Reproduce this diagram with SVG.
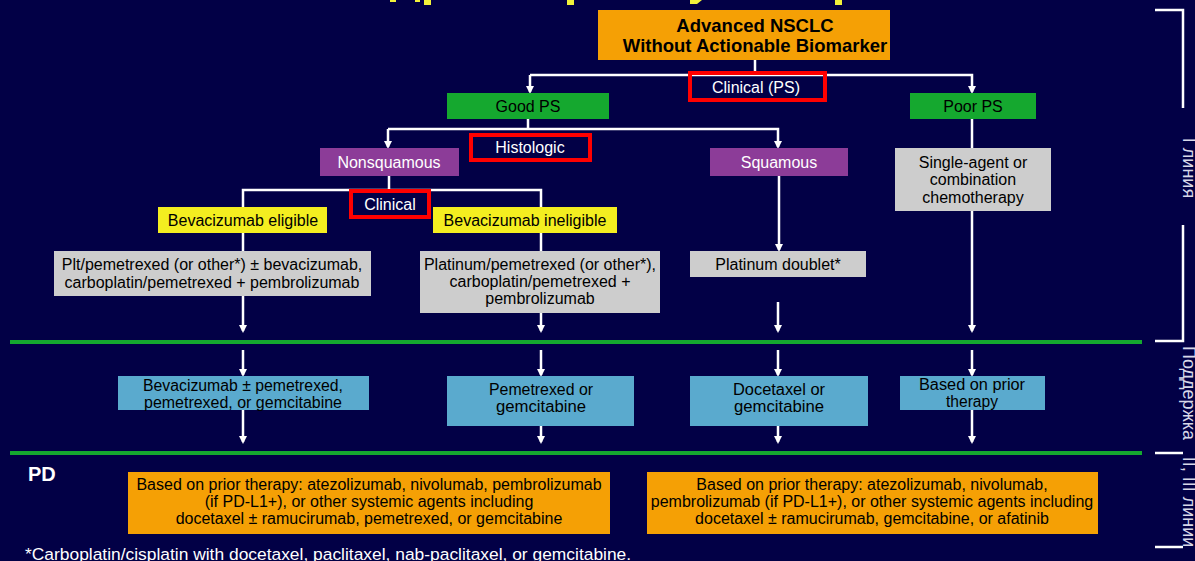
<svg xmlns="http://www.w3.org/2000/svg" width="1195" height="561" viewBox="0 0 1195 561">
  <defs>
    <style>
      text { font-family: "Liberation Sans", Arial, sans-serif; font-size: 16px; text-anchor: middle; }
      .dark { fill: #000000; }
      .light { fill: #FFFFFF; }
      .title { font-size: 18.5px; font-weight: bold; }
      .orange { fill: #F5A005; }
      .green { fill: #15A82F; }
      .purple { fill: #8C3C98; }
      .yellow { fill: #F4EE20; }
      .gray { fill: #CDCDCD; }
      .blue { fill: #5AAACE; }
      .tag { fill: none; stroke: #FF0000; stroke-width: 4; }
      .wire { fill: none; stroke: #FFFFFF; stroke-width: 2.5; }
      .arrow { fill: none; stroke: #FFFFFF; stroke-width: 2.5; marker-end: url(#head); }
      .band { stroke: #15A82F; stroke-width: 4; }
      .side { font-size: 18px; fill: #D8D8E8; text-anchor: middle; }
      .bracket { fill: none; stroke: #FFFFFF; stroke-width: 2.5; }
      .heading-edge { fill: #F2F23A; }
    </style>
    <marker id="head" markerWidth="8" markerHeight="8" refX="6" refY="4" orient="auto" markerUnits="userSpaceOnUse">
      <path d="M0,0 L8,4 L0,8 Z" fill="#FFFFFF"/>
    </marker>
  </defs>

  <rect width="1195" height="561" fill="#020046"/>

  <!-- lower tips of the slide heading, which runs off the top edge -->
  <g id="heading-tips">
    <rect class="heading-edge" x="390" y="0" width="6" height="2"/>
    <rect class="heading-edge" x="415" y="0" width="5" height="2"/>
    <rect class="heading-edge" x="424" y="0" width="7" height="5"/>
    <rect class="heading-edge" x="567" y="0" width="7" height="5"/>
    <path class="heading-edge" d="M690,0 H702 L697,4 H690 Z"/>
    <rect class="heading-edge" x="835" y="0" width="7" height="5"/>
  </g>

  <!-- section rules -->
  <line class="band" x1="10" y1="342" x2="1142" y2="342"/>
  <line class="band" x1="10" y1="453" x2="1142" y2="453"/>

  <!-- connectors -->
  <g id="connectors">
    <path class="wire" d="M755,60 V75"/>
    <path class="arrow" d="M530,75 H972 V92"/>
    <path class="arrow" d="M530,75 V92"/>
    <path class="wire" d="M528,119 V129"/>
    <path class="arrow" d="M388,129 H778 V147"/>
    <path class="arrow" d="M388,129 V147"/>
    <path class="wire" d="M389,176 V190"/>
    <path class="wire" d="M243,207 V190 H541 V207"/>
    <path class="wire" d="M243,233 V251"/>
    <path class="wire" d="M541,233 V251"/>
    <path class="arrow" d="M779,176 V250"/>
    <path class="wire" d="M972,119 V148"/>
    <path class="arrow" d="M243,296 V331"/>
    <path class="arrow" d="M541,313 V331"/>
    <path class="arrow" d="M778,302 V331"/>
    <path class="arrow" d="M972,211 V331"/>
    <path class="arrow" d="M243,350 V375"/>
    <path class="arrow" d="M541,350 V375"/>
    <path class="arrow" d="M778,350 V375"/>
    <path class="arrow" d="M972,350 V375"/>
    <path class="arrow" d="M243,410 V442"/>
    <path class="arrow" d="M541,426 V442"/>
    <path class="arrow" d="M778,426 V442"/>
    <path class="arrow" d="M972,410 V442"/>
  </g>

  <g id="root">
    <rect class="orange" x="598" y="10" width="292" height="50"/>
    <text class="dark title" x="755" y="32">Advanced NSCLC</text>
    <text class="dark title" x="755" y="52">Without Actionable Biomarker</text>
  </g>

  <g id="clinical-ps">
    <rect class="tag" x="690" y="73" width="135" height="27"/>
    <text class="light" x="756" y="93">Clinical (PS)</text>
  </g>

  <g id="good-ps">
    <rect class="green" x="447" y="93" width="162" height="26"/>
    <text class="dark" x="528" y="112">Good PS</text>
  </g>

  <g id="poor-ps">
    <rect class="green" x="910" y="93" width="126" height="26"/>
    <text class="dark" x="973" y="112">Poor PS</text>
  </g>

  <g id="histologic">
    <rect class="tag" x="471" y="135" width="119" height="25"/>
    <text class="light" x="530" y="153">Histologic</text>
  </g>

  <g id="nonsquamous">
    <rect class="purple" x="320" y="148" width="139" height="28"/>
    <text class="light" x="389" y="168">Nonsquamous</text>
  </g>

  <g id="squamous">
    <rect class="purple" x="710" y="148" width="138" height="28"/>
    <text class="light" x="779" y="168">Squamous</text>
  </g>

  <g id="poor-ps-chemo">
    <rect class="gray" x="895" y="148" width="156" height="63"/>
    <text class="dark" x="973" y="168">Single-agent or</text>
    <text class="dark" x="973" y="185">combination</text>
    <text class="dark" x="973" y="203">chemotherapy</text>
  </g>

  <g id="clinical-bev">
    <rect class="tag" x="351" y="191" width="78" height="26"/>
    <text class="light" x="390" y="210">Clinical</text>
  </g>

  <g id="bev-eligible">
    <rect class="yellow" x="158" y="207" width="169" height="26"/>
    <text class="dark" x="243" y="226">Bevacizumab eligible</text>
  </g>

  <g id="bev-ineligible">
    <rect class="yellow" x="433" y="207" width="184" height="26"/>
    <text class="dark" x="525" y="226">Bevacizumab ineligible</text>
  </g>

  <g id="eligible-regimen">
    <rect class="gray" x="54" y="251" width="317" height="45"/>
    <text class="dark" x="212" y="270">Plt/pemetrexed (or other*) ± bevacizumab,</text>
    <text class="dark" x="212" y="288">carboplatin/pemetrexed + pembrolizumab</text>
  </g>

  <g id="ineligible-regimen">
    <rect class="gray" x="420" y="251" width="240" height="62"/>
    <text class="dark" x="540" y="270">Platinum/pemetrexed (or other*),</text>
    <text class="dark" x="540" y="287">carboplatin/pemetrexed +</text>
    <text class="dark" x="540" y="304">pembrolizumab</text>
  </g>

  <g id="platinum-doublet">
    <rect class="gray" x="690" y="251" width="176" height="26"/>
    <text class="dark" x="778" y="270">Platinum doublet*</text>
  </g>

  <g id="maint-bev">
    <rect class="blue" x="118" y="376" width="251" height="34"/>
    <text class="dark" x="243" y="391" textLength="200" lengthAdjust="spacingAndGlyphs">Bevacizumab ± pemetrexed,</text>
    <text class="dark" x="243" y="408" textLength="198" lengthAdjust="spacingAndGlyphs">pemetrexed, or gemcitabine</text>
  </g>

  <g id="maint-pem">
    <rect class="blue" x="447" y="376" width="187" height="50"/>
    <text class="dark" x="541" y="395" textLength="104" lengthAdjust="spacingAndGlyphs">Pemetrexed or</text>
    <text class="dark" x="541" y="412" textLength="90" lengthAdjust="spacingAndGlyphs">gemcitabine</text>
  </g>

  <g id="maint-doc">
    <rect class="blue" x="690" y="376" width="178" height="50"/>
    <text class="dark" x="779" y="395" textLength="92" lengthAdjust="spacingAndGlyphs">Docetaxel or</text>
    <text class="dark" x="779" y="412" textLength="90" lengthAdjust="spacingAndGlyphs">gemcitabine</text>
  </g>

  <g id="maint-prior">
    <rect class="blue" x="900" y="376" width="145" height="34"/>
    <text class="dark" x="972" y="390" textLength="106" lengthAdjust="spacingAndGlyphs">Based on prior</text>
    <text class="dark" x="972" y="407" textLength="52" lengthAdjust="spacingAndGlyphs">therapy</text>
  </g>

  <text x="28" y="481" style="font-size:20px;font-weight:bold;text-anchor:start;fill:#FFFFFF">PD</text>

  <g id="pd-nonsquamous">
    <rect class="orange" x="128" y="472" width="482" height="62"/>
    <text class="dark" x="369" y="490">Based on prior therapy: atezolizumab, nivolumab, pembrolizumab</text>
    <text class="dark" x="369" y="507">(if PD-L1+), or other systemic agents including</text>
    <text class="dark" x="369" y="524">docetaxel ± ramucirumab, pemetrexed, or gemcitabine</text>
  </g>

  <g id="pd-squamous">
    <rect class="orange" x="647" y="472" width="451" height="62"/>
    <text class="dark" x="872" y="490">Based on prior therapy: atezolizumab, nivolumab,</text>
    <text class="dark" x="872" y="507">pembrolizumab (if PD-L1+), or other systemic agents including</text>
    <text class="dark" x="872" y="524">docetaxel ± ramucirumab, gemcitabine, or afatinib</text>
  </g>

  <text x="25" y="560" style="font-size:17.4px;text-anchor:start;fill:#FFFFFF">*Carboplatin/cisplatin with docetaxel, paclitaxel, nab-paclitaxel, or gemcitabine.</text>

  <!-- line-of-therapy brackets on the right margin -->
  <g id="line-brackets">
    <path class="bracket" d="M1155,10 H1183 V108"/>
    <path class="bracket" d="M1183,225 V341 H1155"/>
    <path class="bracket" d="M1155,453 H1183"/>
    <path class="bracket" d="M1155,547 H1183"/>
    <text class="side" transform="translate(1183,168) rotate(90)">I линия</text>
    <text class="side" transform="translate(1183,393) rotate(90)">Поддержка</text>
    <text class="side" transform="translate(1183,502) rotate(90)">II, III линии</text>
  </g>
</svg>
